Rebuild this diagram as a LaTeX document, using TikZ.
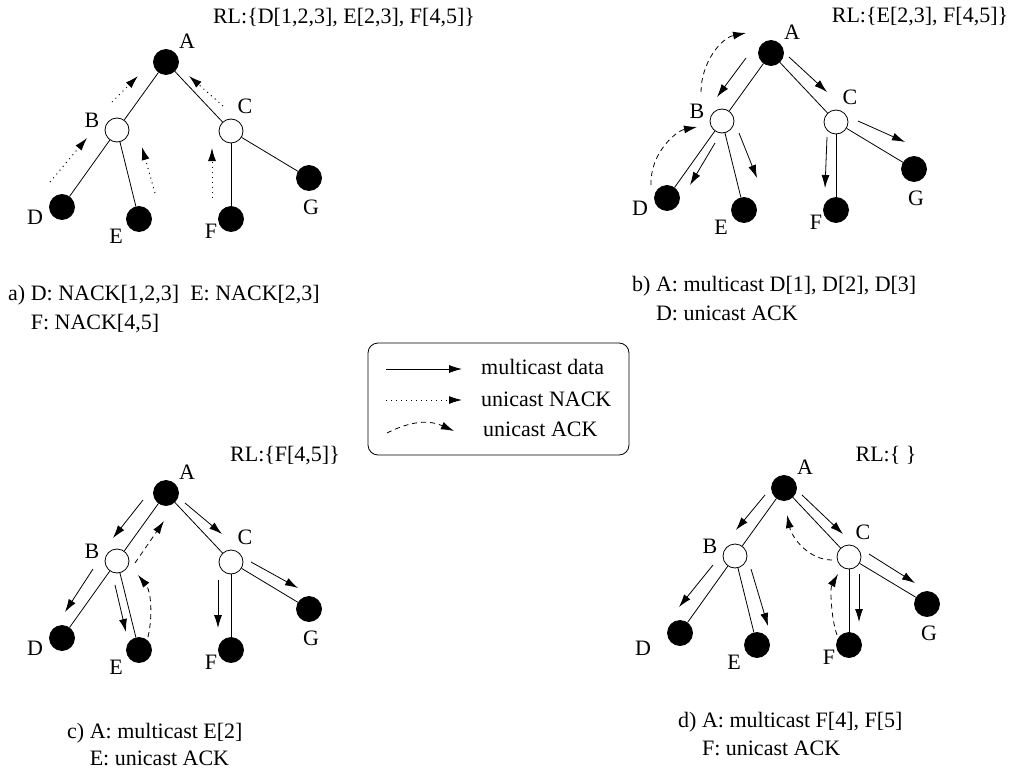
\documentclass[tikz,border=0pt]{standalone}
\usepackage{fontspec}
\setmainfont{Liberation Serif}
\usetikzlibrary{arrows.meta}

% One multicast tree: root A, relays B and C, receivers D, E, F, G.
% #1,#2: offset of the label of D from its node.
\newcommand\mctree[2]{%
  \node[full]   (A) at (0,0) {};
  \node[hollow] (B) at (-49,68) {};
  \node[hollow] (C) at (65,69) {};
  \node[full]   (D) at (-104,145) {};
  \node[full]   (E) at (-27,157) {};
  \node[full]   (F) at (65,157) {};
  \node[full]   (G) at (143,116) {};
  \draw[link] (A) -- (B);
  \draw[link] (A) -- (C);
  \draw[link] (B) -- (D);
  \draw[link] (B) -- (E);
  \draw[link] (C) -- (F);
  \draw[link] (C) -- (G);
  \node[lbl] (lA) at ([shift={(21,-21)}]A.center) {A};
  \node[lbl] (lB) at ([shift={(-25,-10)}]B.center) {B};
  \node[lbl] (lC) at ([shift={(14,-25)}]C.center) {C};
  \node[lbl] (lD) at ([shift={(#1,#2)}]D.center) {D};
  \node[lbl] (lE) at ([shift={(-23,17)}]E.center) {E};
  \node[lbl] (lF) at ([shift={(-20,12)}]F.center) {F};
  \node[lbl] (lG) at ([shift={(2,29)}]G.center) {G};
}

\begin{document}
\begin{tikzpicture}[x=1pt,y=-1pt,
  every node/.style={font=\fontsize{22}{26}\selectfont},
  full/.style={circle,fill=black,draw=black,line width=0.8pt,minimum size=25pt,inner sep=0pt},
  hollow/.style={circle,fill=white,draw=black,line width=0.8pt,minimum size=24pt,inner sep=0pt},
  link/.style={line width=0.8pt},
  lbl/.style={inner sep=0pt},
  txt/.style={inner sep=0pt,anchor=west},
  tip/.style={-{Latex[length=13pt,width=8pt]}},
  mcast/.style={line width=0.8pt,tip},
  nack/.style={line width=1pt,dash pattern=on 1pt off 4pt,tip},
  ack/.style={line width=0.8pt,dash pattern=on 5pt off 4pt,tip},
  legendbox/.style={draw,line width=0.8pt,rounded corners=10pt,minimum width=261pt,minimum height=112pt,inner sep=0pt}
]
\fill[white] (0,0) rectangle (1012,776);
\useasboundingbox (0,0) rectangle (1012,776);

% ---- a) NACKs travel up the tree
\begin{scope}[shift={(166,62)},name prefix=a-]
  \mctree{-27}{10}
  \draw[nack] (-116,120) -- (-79,76);
  \draw[nack] (-54,40) -- (-28,14);
  \draw[nack] (-11,131) -- (-24,85);
  \draw[nack] (46,136) -- (46,86);
  \draw[nack] (57,44) -- (23,14);
\end{scope}
\node (rla) at (344,18) {RL:\{D[1,2,3], E[2,3], F[4,5]\}};
\node[txt] (capa1) at (8,295) {a) D: NACK[1,2,3]\ \ E: NACK[2,3]};
\node[txt] (capa2) at (8,324) {\phantom{a) }F: NACK[4,5]};

% ---- b) repair of D
\begin{scope}[shift={(771,53)},name prefix=b-]
  \mctree{-27}{10}
  \draw[mcast] (-25,5) -- (-54,44);
  \draw[mcast] (18,4) -- (56,39);
  \draw[mcast] (-56,90) -- (-81,132);
  \draw[mcast] (-32,80) -- (-14,125);
  \draw[mcast] (56,84) -- (54,135);
  \draw[mcast] (87,68) -- (134,89);
  \draw[ack] (-120,132) .. controls (-121,100) and (-95,78) .. (-74,74);
  \draw[ack] (-70,39) .. controls (-70,10) and (-50,-15) .. (-25,-20);
\end{scope}
\node (rlb) at (920,17) {RL:\{E[2,3], F[4,5]\}};
\node[txt] (capb1) at (632,286) {b) A: multicast D[1], D[2], D[3]};
\node[txt] (capb2) at (632,315) {\phantom{b) }D: unicast ACK};

% ---- c) repair of E
\begin{scope}[shift={(166,493)},name prefix=c-]
  \mctree{-27}{10}
  \draw[mcast] (-23,7) -- (-53,45);
  \draw[mcast] (19,10) -- (56,41);
  \draw[mcast] (-73,76) -- (-101,119);
  \draw[mcast] (-51,92) -- (-40,139);
  \draw[mcast] (52,87) -- (52,135);
  \draw[mcast] (85,69) -- (132,95);
  \draw[ack] (-31,70) -- (-2,28);
  \draw[ack] (-18,144) .. controls (-13,122) and (-15,98) .. (-28,82);
\end{scope}
\node (rlc) at (285,456) {RL:\{F[4,5]\}};
\node[txt] (capc1) at (67,733) {c) A: multicast E[2]};
\node[txt] (capc2) at (67,760) {\phantom{c) }E: unicast ACK};

% ---- d) repair of F
\begin{scope}[shift={(784,488)},name prefix=d-]
  \mctree{-37}{15}
  \draw[mcast] (-19,7) -- (-48,42);
  \draw[mcast] (18,7) -- (59,46);
  \draw[mcast] (-71,77) -- (-105,119);
  \draw[mcast] (-33,81) -- (-16,138);
  \draw[mcast] (75,86) -- (75,134);
  \draw[mcast] (85,66) -- (131,95);
  \draw[ack] (48,72) .. controls (25,72) and (8,50) .. (3,27);
  \draw[ack] (53,147) .. controls (47,130) and (46,100) .. (54,86);
\end{scope}
\node (rld) at (886,455) {RL:\{\ \}};
\node[txt] (capd1) at (678,722) {d) A: multicast F[4], F[5]};
\node[txt] (capd2) at (678,750) {\phantom{d) }F: unicast ACK};

% ---- legend
\node[legendbox] (legend) at (498.5,399) {};
\draw[mcast] (386,369) -- (462,369);
\node[txt] (lg1) at (481,367) {multicast data};
\draw[nack] (386,400) -- (462,400);
\node[txt] (lg2) at (481,399) {unicast NACK};
\draw[ack] (387,433) .. controls (405,424) and (425,418) .. (454,431);
\node[txt] (lg3) at (483,429) {unicast ACK};
\end{tikzpicture}
\end{document}
